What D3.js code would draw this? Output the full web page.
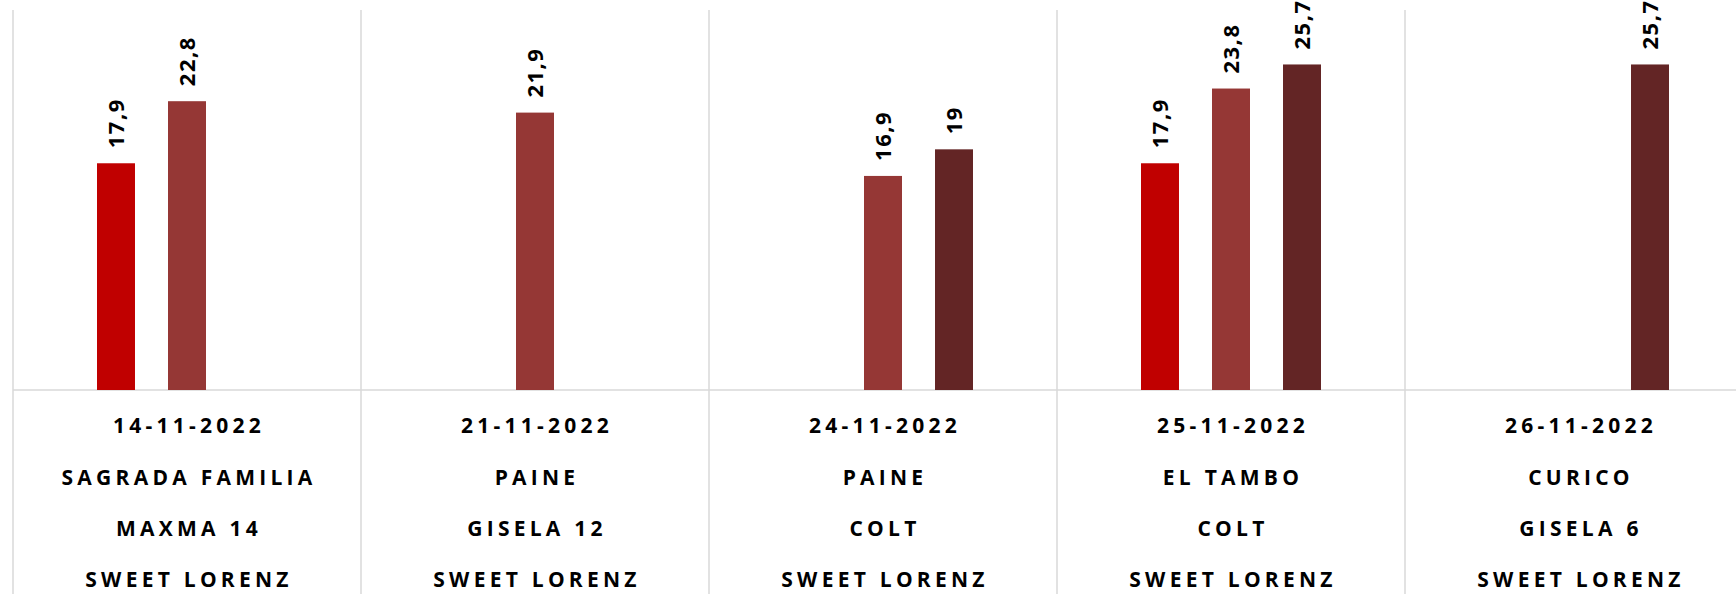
<!DOCTYPE html>
<html>
<head>
<meta charset="utf-8">
<script src="https://cdn.jsdelivr.net/npm/d3@7"></script>
<style>
  html, body { margin: 0; padding: 0; background: #fff; overflow: hidden; }
  svg { display: block; }
</style>
</head>
<body>
<div id="chart"></div>
<script>
const fechas = ["14-11-2022", "21-11-2022", "24-11-2022", "25-11-2022", "26-11-2022"]
const localidades = ["SAGRADA FAMILIA", "PAINE", "PAINE", "EL TAMBO", "CURICO"]
const portainjertos = ["MAXMA 14", "GISELA 12", "COLT", "COLT", "GISELA 6"]
const variedades = ["SWEET LORENZ", "SWEET LORENZ", "SWEET LORENZ", "SWEET LORENZ", "SWEET LORENZ"]

const series_names = ["Serie 1", "Serie 2", "Serie 3"]
const serie_1 = [17.9, null, null, 17.9, null]
const serie_2 = [22.8, 21.9, 16.9, 23.8, null]
const serie_3 = [null, null, 19, 25.7, 25.7]
const colours = ["#c00000", "#953735", "#632525"]

const width = 1736
const height = 594
const plot_left = 13
const plot_top = 10
const baseline = 390
const cat_width = 348
const grid_colour = "#d9d9d9"
const font = "'Open Sans', 'Noto Sans', sans-serif"

var all_series = [serie_1, serie_2, serie_3]
var bars = []
all_series.forEach((s, si) => {
	s.forEach((v, ci) => {
		if (v != null) bars.push({serie: series_names[si], cat: fechas[ci], value: v, colour: colours[si]})
	})
})

var svg = d3.select("#chart")
	.append("svg")
	.attr("width", width)
	.attr("height", height)

var x0 = d3.scaleBand()
	.domain(fechas)
	.range([plot_left, plot_left + cat_width*fechas.length])

var x1 = d3.scaleBand()
	.domain(series_names)
	.range([0, x0.bandwidth()])
	.paddingInner(0.465)
	.paddingOuter(1.183)

var y = d3.scaleLinear()
	.domain([0, 30])
	.range([baseline, plot_top])

// category separators, running down through the label area
var edges = fechas.map(d => x0(d)).concat([x0.range()[1]])
svg.selectAll(".sep")
	.data(edges)
	.enter().append("line")
	.attr("class", "sep")
	.attr("x1", d => d)
	.attr("x2", d => d)
	.attr("y1", plot_top)
	.attr("y2", height)
	.style("stroke", grid_colour)
	.style("stroke-width", "1.5px")

svg.append("line")
	.attr("x1", plot_left)
	.attr("x2", x0.range()[1])
	.attr("y1", y(0))
	.attr("y2", y(0))
	.style("stroke", grid_colour)
	.style("stroke-width", "1.5px")

svg.selectAll(".bar")
	.data(bars)
	.enter().append("rect")
	.attr("class", "bar")
	.attr("x", d => x0(d.cat) + x1(d.serie))
	.attr("y", d => y(d.value))
	.attr("width", x1.bandwidth())
	.attr("height", d => y(0) - y(d.value))
	.style("fill", d => d.colour)

// value labels, rotated, above the bars
svg.selectAll(".vlabel")
	.data(bars)
	.enter().append("text")
	.attr("class", "vlabel")
	.attr("transform", d => {
		let cx = x0(d.cat) + x1(d.serie) + x1.bandwidth()/2
		return `translate(${cx},${y(d.value) - 15}) rotate(-90)`
	})
	.attr("dy", "0.35em")
	.attr("text-anchor", "start")
	.attr("font-family", font)
	.attr("font-size", "22px")
	.attr("font-weight", "bold")
	.attr("letter-spacing", "1.5px")
	.attr("fill", "#000")
	.text(d => String(d.value).replace(".", ","))

// category labels, four lines each
var label_rows = [fechas, localidades, portainjertos, variedades]
var row_baselines = [433, 485, 536, 587]
label_rows.forEach((row, ri) => {
	svg.selectAll(".clabel" + ri)
		.data(row)
		.enter().append("text")
		.attr("class", "clabel" + ri)
		.attr("x", (d, i) => x0(fechas[i]) + x0.bandwidth()/2 + 2)
		.attr("y", row_baselines[ri])
		.attr("text-anchor", "middle")
		.attr("font-family", font)
		.attr("font-size", "21px")
		.attr("font-weight", "bold")
		.attr("letter-spacing", "4.25px")
		.attr("fill", "#000")
		.text(d => d)
})
</script>
</body>
</html>
